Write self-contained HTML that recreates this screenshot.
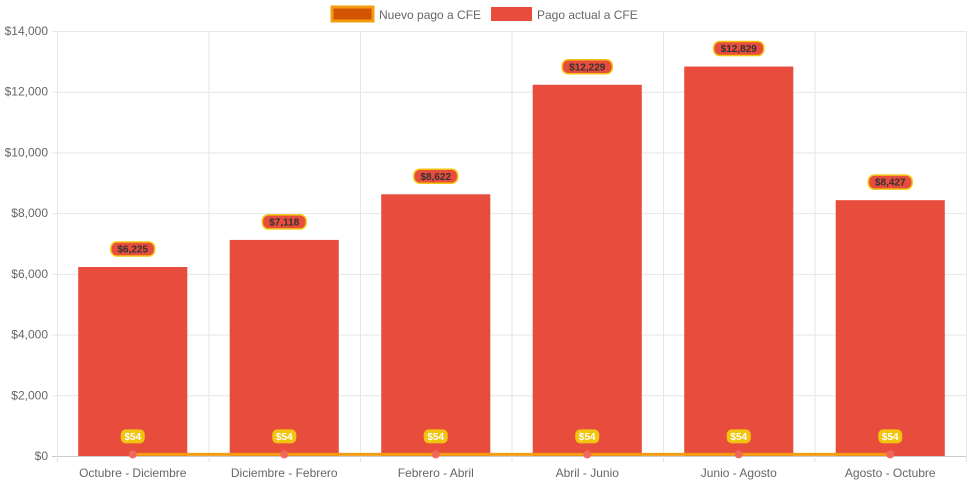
<!DOCTYPE html>
<html><head><meta charset="utf-8"><style>
body{margin:0;background:#fff;font-family:"Liberation Sans",Arial,sans-serif}
svg{display:block}
</style></head><body>
<svg id="chart" width="971" height="485" xmlns="http://www.w3.org/2000/svg" font-family="Liberation Sans, Arial, sans-serif">
<g>
 <g>
  <rect x="332" y="7" width="41" height="14" fill="#d35400" stroke="#f39c12" stroke-width="3"/>
  <text x="379" y="19" font-size="12" fill="#666">Nuevo pago a CFE</text>
 </g>
 <g>
  <rect x="491" y="7" width="41" height="14" fill="#e74c3c"/>
  <text x="537" y="19" font-size="12" fill="#666">Pago actual a CFE</text>
 </g>
</g>
<g id="grid"></g>
<g id="bars"></g>
<g id="line"></g>
<g id="labels"></g>
</svg>
<script>
const categories=["Octubre - Diciembre","Diciembre - Febrero","Febrero - Abril","Abril - Junio","Junio - Agosto","Agosto - Octubre"];
const actualValues=[6225,7118,8622,12229,12829,8427];
const nuevoValues=[54,54,54,54,54,54];
const yTicks=[0,2000,4000,6000,8000,10000,12000,14000];
const NS="http://www.w3.org/2000/svg";
const L=57,R=966,T=31,B=456,yMax=14000;
const bw=(R-L)/categories.length;
const y=v=>B-(v/yMax)*(B-T);
const xc=i=>L+bw*(i+0.5);
function mk(tag,attrs,parent,txt){const e=document.createElementNS(NS,tag);for(const k in attrs)e.setAttribute(k,attrs[k]);if(txt!=null)e.textContent=txt;parent.appendChild(e);return e;}
const fmt=v=>"$"+v.toLocaleString("en-US");
const grid=document.getElementById("grid"),bars=document.getElementById("bars"),line=document.getElementById("line"),labels=document.getElementById("labels");
yTicks.forEach(t=>{
 const l=mk("line",{x1:L-5,x2:R,y1:y(t)+0.5,y2:y(t)+0.5,stroke:t===0?"#ccc":"#e6e6e6"},grid);
 
 
 const tx=mk("text",{x:L-9,y:y(t)+4,"font-size":12,fill:"#666","text-anchor":"end"},grid,fmt(t));
 
 
});
for(let i=0;i<=categories.length;i++){
 const l=mk("line",{x1:L+bw*i+0.5,x2:L+bw*i+0.5,y1:T,y2:B+6,stroke:"#e6e6e6"},grid);
 
 
}
categories.forEach((c,i)=>{
 const tx=mk("text",{x:xc(i),y:477,"font-size":12,fill:"#666","text-anchor":"middle"},grid,c);
 
 
 const w=bw*0.72;
 const r=mk("rect",{x:xc(i)-w/2,y:y(actualValues[i]),width:w,height:B-y(actualValues[i]),fill:"#e74c3c"},bars);
 
 
 const g=mk("g",{},labels);
 
 
 const s=fmt(actualValues[i]);const lw=s.length*6.3+6;const ly=y(actualValues[i])-18;
 mk("rect",{x:xc(i)-lw/2,y:ly-7,width:lw,height:14,rx:6,fill:"#e74c3c",stroke:"#f1c40f","stroke-width":1.5},g);
 mk("text",{x:xc(i),y:ly+3.5,"font-size":10,"font-weight":"bold",fill:"#333","text-anchor":"middle"},g,s);
});
let d="";nuevoValues.forEach((v,i)=>{d+=(i?"L":"M")+xc(i)+","+y(v);});
const pth=mk("path",{d:d,stroke:"#f39c12","stroke-width":3,fill:"none"},line);


nuevoValues.forEach((v,i)=>{
 const c=mk("circle",{cx:xc(i),cy:y(v),r:4,fill:"#f0685b"},line);
 
 
 const g=mk("g",{},labels);
 
 
 const s=fmt(v);const ly=y(v)-18;
 mk("rect",{x:xc(i)-12,y:ly-7,width:24,height:14,rx:5,fill:"#f1c40f"},g);
 mk("text",{x:xc(i),y:ly+3.5,"font-size":10,"font-weight":"bold",fill:"#fff","text-anchor":"middle"},g,s);
});
</script>
</body></html>
